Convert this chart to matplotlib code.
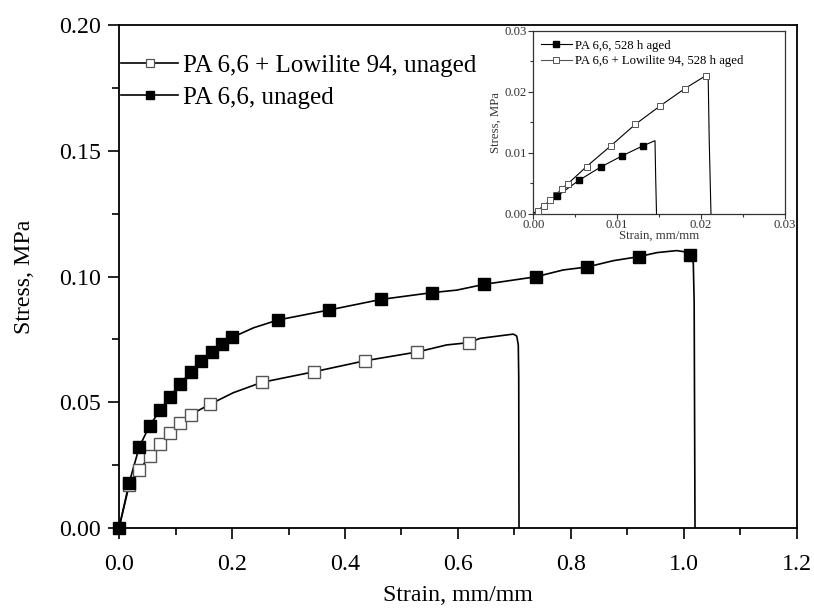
import matplotlib
matplotlib.use("Agg")
import matplotlib.pyplot as plt
from matplotlib.ticker import MultipleLocator

plt.rcParams["font.family"] = ["Liberation Serif", "DejaVu Serif"]
plt.rcParams["mathtext.fontset"] = "stix"

# ---- unaged specimens: measured curve ----
neat_curve_strain = [0.0, 0.018, 0.036, 0.054, 0.0726, 0.0903, 0.108, 0.127, 0.146,
                     0.165, 0.182, 0.2005, 0.238, 0.281, 0.372, 0.464, 0.5545, 0.598,
                     0.6466, 0.738, 0.786, 0.829, 0.875, 0.920, 0.952, 0.987, 1.005,
                     1.0136, 1.0165, 1.018, 1.0195]
neat_curve_stress = [0.0, 0.018, 0.0323, 0.0406, 0.0468, 0.0522, 0.0573, 0.0621, 0.0664,
                     0.0701, 0.0732, 0.0758, 0.0796, 0.0827, 0.0867, 0.0909, 0.0936, 0.0946,
                     0.0969, 0.0999, 0.1026, 0.1038, 0.1063, 0.1079, 0.1095, 0.1103, 0.1097,
                     0.1079, 0.1052, 0.09, 0.0]

lowi_curve_strain = [0.0, 0.018, 0.036, 0.0545, 0.0726, 0.0903, 0.108, 0.127, 0.161,
                     0.2023, 0.2525, 0.3446, 0.4354, 0.528, 0.58, 0.619, 0.639, 0.698,
                     0.704, 0.7067, 0.7075, 0.708]
lowi_curve_stress = [0.0, 0.0171, 0.0232, 0.0285, 0.0334, 0.0377, 0.0419, 0.0451, 0.0492,
                     0.0538, 0.0579, 0.0621, 0.0665, 0.0700, 0.0728, 0.0737, 0.0754, 0.0771,
                     0.0763, 0.0728, 0.06, 0.0]

# ---- unaged specimens: symbol positions ----
neat_sym_strain = [0.0, 0.018, 0.036, 0.054, 0.0726, 0.0903, 0.108, 0.127, 0.146, 0.165,
                   0.182, 0.2005, 0.281, 0.372, 0.464, 0.5545, 0.6466, 0.738, 0.829,
                   0.920, 1.0106]
neat_sym_stress = [0.0, 0.018, 0.0323, 0.0406, 0.0468, 0.0522, 0.0573, 0.0621, 0.0664,
                   0.0701, 0.0732, 0.0758, 0.0827, 0.0867, 0.0909, 0.0936, 0.0969, 0.0999,
                   0.1038, 0.1079, 0.1084]

lowi_sym_strain = [0.018, 0.036, 0.0545, 0.0726, 0.0903, 0.108, 0.127, 0.161, 0.2525,
                   0.3446, 0.4354, 0.528, 0.619]
lowi_sym_stress = [0.0171, 0.0232, 0.0285, 0.0334, 0.0377, 0.0419, 0.0451, 0.0492, 0.0579,
                   0.0621, 0.0665, 0.0700, 0.0737]

# ---- 528 h aged specimens (inset) ----
aged_neat_strain = [0.0, 0.00285, 0.00544, 0.00803, 0.01062, 0.01313, 0.01452, 0.0146, 0.0147]
aged_neat_stress = [0.0, 0.00288, 0.00546, 0.00764, 0.0095, 0.01115, 0.01197, 0.006, 0.0]
aged_neat_sym_strain = [0.00285, 0.00544, 0.00803, 0.01062, 0.01313]
aged_neat_sym_stress = [0.00288, 0.00546, 0.00764, 0.0095, 0.01115]

aged_lowi_strain = [0.0, 0.0005, 0.00126, 0.00197, 0.00269, 0.0034, 0.00412, 0.00634,
                    0.00922, 0.01217, 0.01512, 0.01807, 0.02058, 0.02087, 0.0210, 0.02121]
aged_lowi_stress = [0.0, 0.00046, 0.00128, 0.00217, 0.00309, 0.00408, 0.0049, 0.00772,
                    0.0111, 0.01466, 0.01767, 0.02052, 0.02265, 0.0229, 0.012, 0.0]
aged_lowi_sym_strain = [0.0005, 0.00126, 0.00197, 0.00269, 0.0034, 0.00412, 0.00634,
                        0.00922, 0.01217, 0.01512, 0.01807, 0.02058]
aged_lowi_sym_stress = [0.00046, 0.00128, 0.00217, 0.00309, 0.00408, 0.0049, 0.00772,
                        0.0111, 0.01466, 0.01767, 0.02052, 0.02265]

FS = 17.2
FS_LEG = 18
GRAY = "#555555"

fig = plt.figure(figsize=(8.14, 6.10), dpi=100)
ax = fig.add_axes([0.1462, 0.1344, 0.8329, 0.8246])

# main curves
ax.plot(lowi_curve_strain, lowi_curve_stress, color="black", lw=1.2, zorder=2)
ax.plot(neat_curve_strain, neat_curve_stress, color="black", lw=1.2, zorder=2)
ax.plot(lowi_sym_strain, lowi_sym_stress, ls="none", marker="s", ms=8.3,
        mfc="white", mec=GRAY, mew=1.0, zorder=3, clip_on=False)
ax.plot(neat_sym_strain, neat_sym_stress, ls="none", marker="s", ms=8.6,
        mfc="black", mec="black", zorder=4, clip_on=False)

# legend handles
h_lowi, = ax.plot([], [], color="black", lw=1.2, marker="s", ms=5.2,
                  mfc="white", mec=GRAY, mew=0.9)
h_neat, = ax.plot([], [], color="black", lw=1.2, marker="s", ms=5.2,
                  mfc="black", mec="black")
ax.legend([h_lowi, h_neat], ["PA 6,6 + Lowilite 94, unaged", "PA 6,6, unaged"],
          loc="upper left", bbox_to_anchor=(-0.012, 0.962), frameon=False,
          fontsize=FS_LEG, handlelength=2.3, handletextpad=0.2, labelspacing=0.38,
          borderaxespad=0.0)

ax.set_xlim(0, 1.2)
ax.set_ylim(0, 0.20)
ax.xaxis.set_major_locator(MultipleLocator(0.2))
ax.xaxis.set_minor_locator(MultipleLocator(0.1))
ax.yaxis.set_major_locator(MultipleLocator(0.05))
ax.yaxis.set_minor_locator(MultipleLocator(0.025))
ax.xaxis.set_major_formatter(plt.FormatStrFormatter("%.1f"))
ax.yaxis.set_major_formatter(plt.FormatStrFormatter("%.2f"))
ax.tick_params(which="both", direction="out", top=False, right=False,
               labelsize=FS, width=1.2, colors="black")
ax.tick_params(which="major", length=8, pad=5)
ax.tick_params(axis="x", which="major", pad=11)
ax.tick_params(which="minor", length=5)
for sp in ax.spines.values():
    sp.set_linewidth(1.3)
ax.set_xlabel("Strain, mm/mm", fontsize=FS, labelpad=7)
ax.set_ylabel("Stress, MPa", fontsize=FS, labelpad=17)

# inset: aged specimens
ins = fig.add_axes([0.6554, 0.65, 0.3084, 0.2992])
ins.set_facecolor("white")
ins.plot(aged_neat_strain, aged_neat_stress, color="black", lw=0.8, zorder=2)
ins.plot(aged_lowi_strain, aged_lowi_stress, color="black", lw=0.8, zorder=2)
ins.plot(aged_lowi_sym_strain, aged_lowi_sym_stress, ls="none", marker="s", ms=4.2,
         mfc="white", mec=GRAY, mew=0.7, zorder=3)
ins.plot(aged_neat_sym_strain, aged_neat_sym_stress, ls="none", marker="s", ms=4.4,
         mfc="black", mec="black", zorder=4)
g_neat, = ins.plot([], [], color="black", lw=0.8, marker="s", ms=4.4,
                   mfc="black", mec="black")
g_lowi, = ins.plot([], [], color=GRAY, lw=0.8, marker="s", ms=4.2,
                   mfc="white", mec=GRAY, mew=0.7)
ins.legend([g_neat, g_lowi], ["PA 6,6, 528 h aged", "PA 6,6 + Lowilite 94, 528 h aged"],
           loc="upper left", bbox_to_anchor=(0.0, 0.995), frameon=False, fontsize=9.2,
           handlelength=2.4, handletextpad=0.25, labelspacing=0.3, borderaxespad=0.2)
ins.set_xlim(0, 0.03)
ins.set_ylim(0, 0.03)
ins.xaxis.set_major_locator(MultipleLocator(0.01))
ins.xaxis.set_minor_locator(MultipleLocator(0.005))
ins.yaxis.set_major_locator(MultipleLocator(0.01))
ins.yaxis.set_minor_locator(MultipleLocator(0.005))
ins.xaxis.set_major_formatter(plt.FormatStrFormatter("%.2f"))
ins.yaxis.set_major_formatter(plt.FormatStrFormatter("%.2f"))
ins.tick_params(which="both", direction="out", top=False, right=False,
                labelsize=9.2, width=0.8, colors="#333333")
ins.tick_params(which="major", length=3.5, pad=1.5)
ins.tick_params(axis="x", which="major", pad=0.5)
ins.tick_params(which="minor", length=2)
for sp in ins.spines.values():
    sp.set_linewidth(0.9)
    sp.set_color("#333333")
ins.set_xlabel("Strain, mm/mm", fontsize=9.2, labelpad=-1, color="#333333")
ins.set_ylabel("Stress, MPa", fontsize=9.2, labelpad=2, color="#333333")

fig.savefig("out.png", dpi=100)
